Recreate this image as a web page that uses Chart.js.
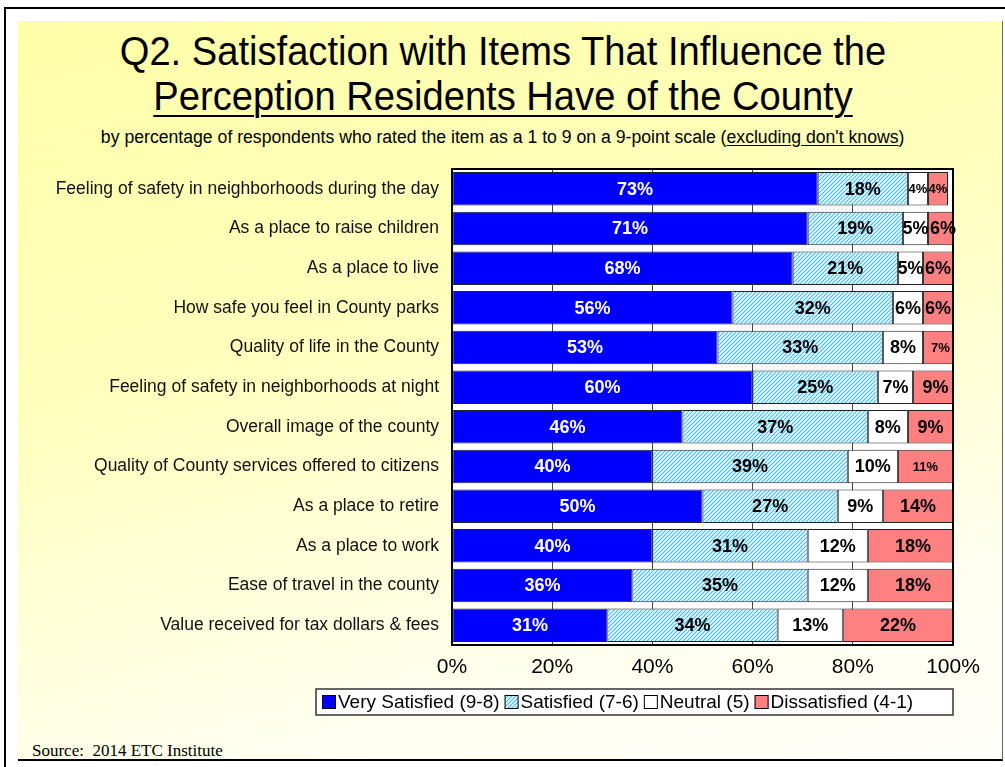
<!DOCTYPE html>
<html>
<head>
<meta charset="utf-8">
<title>Q2. Satisfaction with Items That Influence the Perception Residents Have of the County</title>
<script src="https://cdn.jsdelivr.net/npm/chart.js@4.4.1/dist/chart.umd.min.js"></script>
<style>
  html, body { margin: 0; padding: 0; background: #fff; }
  body { width: 1005px; height: 767px; position: relative; overflow: hidden;
         font-family: 'Liberation Sans', Arial, sans-serif; color: #000; }
  #frame { position: absolute; left: 4px; top: 7px; right: -4px; bottom: -4px;
           border-top: 2px solid #000; border-left: 2px solid #000; }
  #panel { position: absolute; left: 18px; top: 21px; width: 984px; height: 738px;
           background: linear-gradient(165deg, #ffffa8 0%, #ffffbe 40%, #fffff0 80%, #fffffa 100%);
           border-right: 1px solid #666; border-bottom: 2px solid #000; }
  .title { position: absolute; left: 0; width: 1005px; text-align: center; white-space: nowrap;
           font-size: 41px; line-height: 46px; transform: scaleX(0.93); transform-origin: 510px 0; }
  #t1 { top: 28px; }
  #t2 { top: 73px; }
  #t2 span { text-decoration: underline; text-decoration-thickness: 2px; text-underline-offset: 5px; }
  #sub { position: absolute; left: 0; top: 127px; width: 1005px; text-align: center;
         font-size: 18px; line-height: 21px; white-space: nowrap; transform: scaleX(0.98); transform-origin: 510px 0; }
  #sub u { text-underline-offset: 2px; }
  #source { position: absolute; left: 32px; top: 741px; font-family: 'Liberation Serif', 'Times New Roman', serif;
            font-size: 17px; line-height: 19px; white-space: nowrap; }
  #wrap { position: absolute; left: 0; top: 0; width: 1005px; height: 767px; }
</style>
</head>
<body>
<div id="frame"></div>
<div id="panel"></div>
<div class="title" id="t1">Q2. Satisfaction with Items That Influence the</div>
<div class="title" id="t2"><span>Perception Residents Have of the County</span></div>
<div id="sub">by percentage of respondents who rated the item as a 1 to 9 on a 9-point scale (<u>excluding don't knows</u>)</div>
<div id="source">Source:&nbsp; 2014 ETC Institute</div>
<div id="wrap"><canvas id="satisfaccion"></canvas></div>

<script>
// Items rated, top to bottom
const items = [
  'Feeling of safety in neighborhoods during the day',
  'As a place to raise children',
  'As a place to live',
  'How safe you feel in County parks',
  'Quality of life in the County',
  'Feeling of safety in neighborhoods at night',
  'Overall image of the county',
  'Quality of County services offered to citizens',
  'As a place to retire',
  'As a place to work',
  'Ease of travel in the county',
  'Value received for tax dollars & fees'
];

// Percent of respondents per rating group
const verySatisfied = [73, 71, 68, 56, 53, 60, 46, 40, 50, 40, 36, 31];
const satisfied     = [18, 19, 21, 32, 33, 25, 37, 39, 27, 31, 35, 34];
const neutral       = [4, 5, 5, 6, 8, 7, 8, 10, 9, 12, 12, 13];
const dissatisfied  = [4, 6, 6, 6, 7, 9, 9, 11, 14, 18, 18, 22];

const groupNames = ['Very Satisfied (9-8)', 'Satisfied (7-6)', 'Neutral (5)', 'Dissatisfied (4-1)'];
const axisTicks = [0, 20, 40, 60, 80, 100];

const FONT = "'Liberation Sans', Arial, sans-serif";

// diagonal hatch used for the "Satisfied" group
function hatch() {
  const c = document.createElement('canvas');
  c.width = 4; c.height = 4;
  const g = c.getContext('2d');
  g.fillStyle = '#f2fbff';
  g.fillRect(0, 0, 4, 4);
  g.strokeStyle = '#45bff0';
  g.lineWidth = 1.2;
  g.beginPath();
  g.moveTo(0, 4); g.lineTo(4, 0);
  g.moveTo(-1, 1); g.lineTo(1, -1);
  g.moveTo(3, 5); g.lineTo(5, 3);
  g.stroke();
  return g.createPattern(c, 'repeat');
}

// a few labels were set smaller in the original deck
function smallLabel(di, i) {
  return (di === 2 && i === 0) || (di === 3 && (i === 0 || i === 4 || i === 7));
}

const plotBackground = {
  id: 'plotBackground',
  beforeDraw(chart) {
    const { ctx, chartArea: a } = chart;
    ctx.save();
    ctx.fillStyle = '#fff';
    ctx.fillRect(a.left, a.top, a.right - a.left, a.bottom - a.top);
    ctx.restore();
  }
};

const frameAndLabels = {
  id: 'frameAndLabels',
  afterDatasetsDraw(chart) {
    const { ctx, chartArea: a } = chart;
    ctx.save();
    ctx.strokeStyle = '#000';
    ctx.lineWidth = 2;
    ctx.strokeRect(a.left, a.top, a.right - a.left, a.bottom - a.top);

    ctx.textAlign = 'center';
    ctx.textBaseline = 'middle';
    chart.data.datasets.forEach((ds, di) => {
      chart.getDatasetMeta(di).data.forEach((bar, i) => {
        const size = smallLabel(di, i) ? 13 : 18;
        ctx.font = 'bold ' + size + 'px ' + FONT;
        ctx.fillStyle = di === 0 ? '#fff' : '#000';
        ctx.fillText(ds.data[i] + '%', (bar.x + bar.base) / 2, bar.y + 1);
      });
    });
    ctx.restore();
  }
};

// legend in a white box under the axis
const boxLegend = {
  id: 'boxLegend',
  afterDraw(chart) {
    const { ctx, chartArea: a } = chart;
    const top = a.bottom + 44, h = 26;
    const left = a.left - 136, right = a.right;
    const cy = top + h / 2;
    ctx.save();
    ctx.fillStyle = '#fff';
    ctx.fillRect(left, top, right - left, h);
    ctx.strokeStyle = '#333';
    ctx.lineWidth = 1.5;
    ctx.strokeRect(left, top, right - left, h);
    ctx.font = '19px ' + FONT;
    ctx.textBaseline = 'middle';
    ctx.textAlign = 'left';
    let x = left + 6;
    chart.data.datasets.forEach(ds => {
      ctx.fillStyle = ds.backgroundColor;
      ctx.fillRect(x, cy - 7, 14, 14);
      ctx.strokeStyle = '#000';
      ctx.lineWidth = 1;
      ctx.strokeRect(x + 0.5, cy - 6.5, 13, 13);
      x += 16;
      ctx.fillStyle = '#000';
      ctx.fillText(ds.label, x, cy + 1);
      x += ctx.measureText(ds.label).width + 5;
    });
    ctx.restore();
  }
};

window.addEventListener('DOMContentLoaded', function() {
    const colors = ['#0000ff', hatch(), '#ffffff', '#ff8080'];
    const series = [verySatisfied, satisfied, neutral, dissatisfied];

    new Chart(document.getElementById('satisfaccion'), {
        type: 'bar',
        data: {
            labels: items,
            datasets: series.map((d, k) => ({
                label: groupNames[k],
                data: d,
                backgroundColor: colors[k],
                borderColor: '#222',
                borderWidth: 1,
                borderSkipped: false,
                categoryPercentage: 0.845,
                barPercentage: 1
            }))
        },
        options: {
            indexAxis: 'y',
            responsive: true,
            maintainAspectRatio: false,
            animation: false,
            layout: { padding: { left: 20, right: 52, top: 169, bottom: 88 } },
            plugins: { legend: { display: false }, tooltip: { enabled: false } },
            scales: {
                x: {
                    stacked: true,
                    min: 0,
                    max: 100,
                    afterBuildTicks: s => { s.ticks = axisTicks.map(v => ({ value: v })); },
                    afterFit: s => { s.height = 34; },
                    grid: { color: '#444', lineWidth: 1, drawTicks: false },
                    border: { display: false },
                    ticks: {
                        padding: 10,
                        color: '#000',
                        font: { family: FONT, size: 21 },
                        callback: v => v + '%'
                    }
                },
                y: {
                    stacked: true,
                    afterFit: s => { s.width = 432; },
                    grid: { display: false },
                    border: { display: false },
                    ticks: {
                        padding: 5,
                        color: '#111',
                        font: { family: FONT, size: 17.5 }
                    }
                }
            }
        },
        plugins: [plotBackground, frameAndLabels, boxLegend]
    });
});
</script>
</body>
</html>
